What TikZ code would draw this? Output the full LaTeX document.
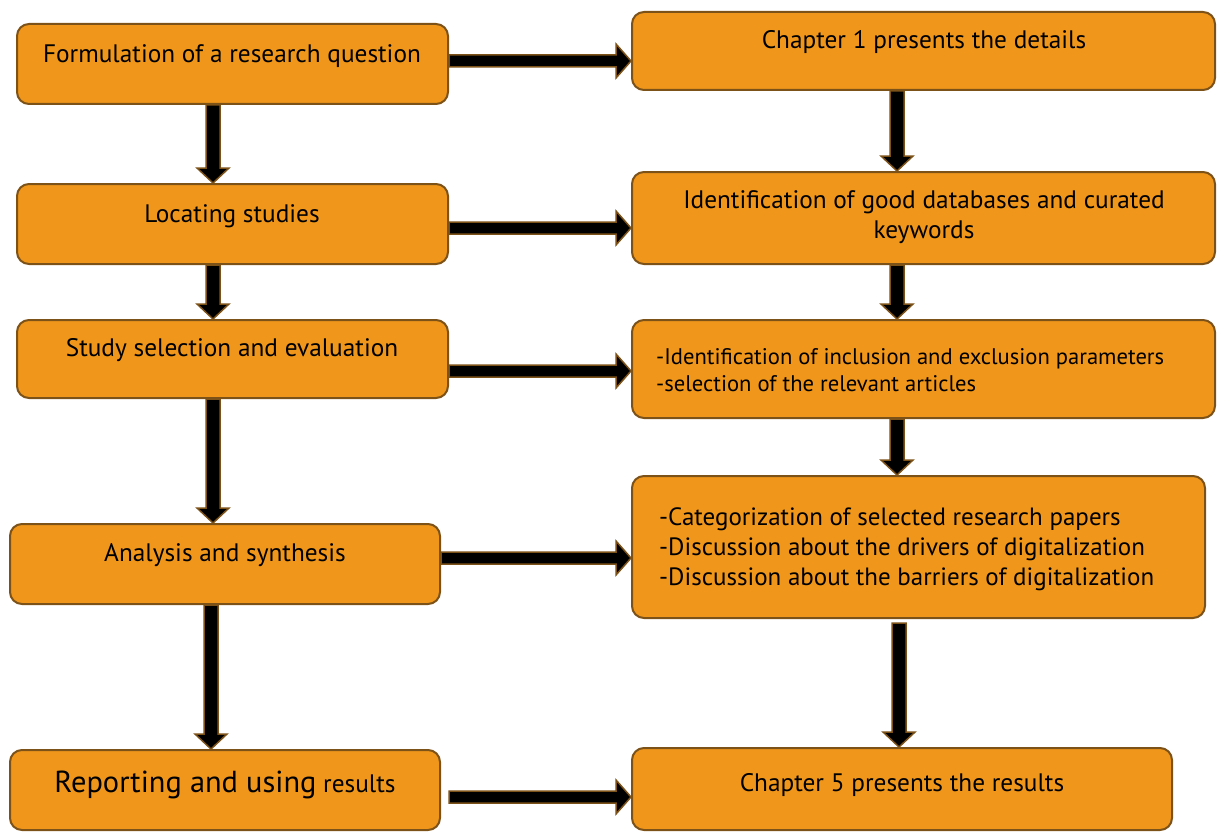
\documentclass[tikz,border=0pt]{standalone}
\usepackage{fontspec}
\setmainfont{PT Sans}
\usetikzlibrary{calc}
\definecolor{boxfill}{RGB}{240,150,26}
\definecolor{boxline}{RGB}{125,82,25}
\tikzset{
  box/.style={draw=boxline, fill=boxfill, line width=2pt, rounded corners=12pt, inner sep=0pt},
  txt/.style={inner sep=0pt, font=\fontsize{25.3}{30}\selectfont, text=black},
  arrfill/.style={fill=black, draw=boxline, line width=1.5pt, line join=miter}
}
% #1 x, #2 from node, #3 to node, #4 gap at start
\newcommand{\downarr}[4]{%
  \filldraw[arrfill] let \p1=(#2.south), \p2=(#3.north) in
  ({#1pt-7pt},{\y1-#4pt}) -- ({#1pt+7pt},{\y1-#4pt}) -- ({#1pt+7pt},{\y2+15pt}) -- ({#1pt+16pt},{\y2+15pt})
  -- ({#1pt},\y2) -- ({#1pt-16pt},{\y2+15pt}) -- ({#1pt-7pt},{\y2+15pt}) -- cycle;}
% #1 y, #2 from node, #3 to node, #4 gap at start
\newcommand{\rightarr}[4]{%
  \filldraw[arrfill] let \p1=(#2.east), \p2=(#3.west) in
  ({\x1+#4pt},{-#1pt+6pt}) -- ({\x2-15pt},{-#1pt+6pt}) -- ({\x2-15pt},{-#1pt+17pt})
  -- (\x2,{-#1pt}) -- ({\x2-15pt},{-#1pt-17pt}) -- ({\x2-15pt},{-#1pt-6pt}) -- ({\x1+#4pt},{-#1pt-6pt}) -- cycle;}
\begin{document}
\begin{tikzpicture}[x=1pt,y=-1pt]
\useasboundingbox (0,0) rectangle (1220,832);
% boxes
\node[box, minimum width=431pt, minimum height=80pt] (L1) at (232.5,64) {};
\node[box, minimum width=583pt, minimum height=78pt] (R1) at (923.5,51) {};
\node[box, minimum width=431pt, minimum height=80pt] (L2) at (232.5,224) {};
\node[box, minimum width=583pt, minimum height=92pt] (R2) at (923.5,218) {};
\node[box, minimum width=431pt, minimum height=78pt] (L3) at (232.5,359) {};
\node[box, minimum width=583pt, minimum height=98pt] (R3) at (923.5,369) {};
\node[box, minimum width=430pt, minimum height=80pt] (L4) at (225,564) {};
\node[box, minimum width=573pt, minimum height=142pt] (R4) at (918.5,547) {};
\node[box, minimum width=430pt, minimum height=80pt] (L5) at (225,790) {};
\node[box, minimum width=540pt, minimum height=82pt] (R5) at (902,789) {};
% texts
\node[txt] (t1) at (232,56) {Formulation of a research question};
\node[txt] (t2) at (924,42) {Chapter 1 presents the details};
\node[txt] (t3) at (232,216) {Locating studies};
\node[txt, align=center] (t4) at (924,217) {Identification of good databases and curated\\keywords};
\node[txt] (t5) at (232,350) {Study selection and evaluation};
\node[txt, align=left, anchor=west, font=\fontsize{22.6}{27}\selectfont] (t6) at (656,370) {-Identification of inclusion and exclusion parameters\\-selection of the relevant articles};
\node[txt] (t7) at (225,555) {Analysis and synthesis};
\node[txt, align=left, anchor=west, font=\fontsize{25}{30}\selectfont] (t8) at (659,549) {-Categorization of selected research papers\\-Discussion about the drivers of digitalization\\-Discussion about the barriers of digitalization};
\node[txt] (t9) at (225,785) {{\fontsize{30.4}{32}\selectfont Reporting and using} results};
\node[txt] (t10) at (902,785) {Chapter 5 presents the results};
% arrows
\downarr{213}{L1}{L2}{0}
\downarr{213}{L2}{L3}{0}
\downarr{213}{L3}{L4}{0}
\downarr{211}{L4}{L5}{0}
\downarr{897}{R1}{R2}{0}
\downarr{897}{R2}{R3}{0}
\downarr{897}{R3}{R4}{0}
\downarr{899}{R4}{R5}{4}
\rightarr{61}{L1}{R1}{0}
\rightarr{228}{L2}{R2}{0}
\rightarr{371}{L3}{R3}{0}
\rightarr{558}{L4}{R4}{0}
\rightarr{797}{L5}{R5}{8}
\end{tikzpicture}
\end{document}
